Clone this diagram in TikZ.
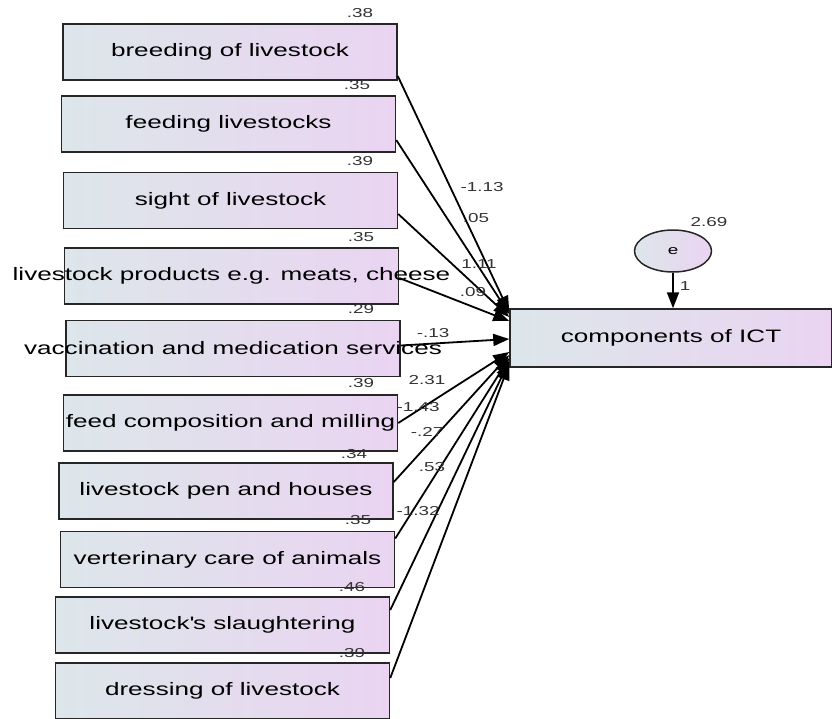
\documentclass[tikz,border=0pt]{standalone}
\usepackage{fontspec}
\setmainfont{Liberation Sans}[FakeStretch=1.45]
\usetikzlibrary{arrows.meta,shapes.geometric}

\definecolor{boxleft}{RGB}{221,230,234}
\definecolor{boxright}{RGB}{234,212,242}

\tikzset{
  obs/.style={draw=black!85, line width=1.5pt, left color=boxleft, right color=boxright,
    minimum width=334pt, minimum height=56pt, inner sep=0pt, font=\fontsize{18}{20}\selectfont},
  num/.style={inner sep=0pt, text=black!80, font=\fontsize{13}{14}\selectfont},
  effect/.style={-{Triangle[length=16pt,width=12pt]}, line width=1.8pt},
}
\newcommand{\wide}[1]{\makebox[0pt]{#1}}

\begin{document}
\begin{tikzpicture}[x=1pt, y=-1pt]
    \useasboundingbox (0,0) rectangle (832,718);
    % ---------------------------------------------
    % observed variables
    \node[obs] (b1)  at (230,52)    {\wide{breeding of livestock}};
    \node[obs] (b2)  at (228.5,124) {\wide{feeding livestocks}};
    \node[obs] (b3)  at (230.5,200.5) {\wide{sight of livestock}};
    \node[obs] (b4)  at (231.5,276) {\wide{livestock products e.g. meats, cheese}};
    \node[obs] (b5)  at (233,348.5) {\wide{vaccination and medication services}};
    \node[obs] (b6)  at (230.5,423) {\wide{feed composition and milling}};
    \node[obs] (b7)  at (226,491)   {\wide{livestock pen and houses}};
    \node[obs] (b8)  at (227.5,559.5) {\wide{verterinary care of animals}};
    \node[obs] (b9)  at (222.5,625) {\wide{livestock\textquotesingle s slaughtering}};
    \node[obs] (b10) at (222.5,691) {\wide{dressing of livestock}};

    % variances
    \node[num] (v1)  at (360,13)  {.38};
    \node[num] (v2)  at (357,85)  {.35};
    \node[num] (v3)  at (360,161) {.39};
    \node[num] (v4)  at (361,237) {.35};
    \node[num] (v5)  at (361,309) {.29};
    \node[num] (v6)  at (361,383) {.39};
    \node[num] (v7)  at (354,454) {.34};
    \node[num] (v8)  at (358,520) {.35};
    \node[num] (v9)  at (352,587) {.46};
    \node[num] (v10) at (352,653) {.39};

    % dependent variable and its error
    \node[obs, minimum width=322pt, minimum height=58pt] (comp) at (671,338) {components of ICT};
    \node[ellipse, draw=black!85, line width=1.5pt, left color=boxleft, right color=boxright,
      minimum width=77pt, minimum height=42pt, inner sep=0pt,
      font=\fontsize{13}{14}\selectfont] (err) at (673,251) {e};
    \node[num] (verr) at (709,222) {2.69};
    \draw[effect] (err.south) -- (err.south |- comp.north);
    \node[num] (w1) at (685,286) {1};

    % regression paths
    \draw[effect] ([yshift=-24pt]b1.east)  -- ([yshift=26pt]comp.west);
    \draw[effect] ([yshift=-16pt]b2.east)  -- ([yshift=24pt]comp.west);
    \draw[effect] ([yshift=-13.5pt]b3.east) -- ([yshift=21pt]comp.west);
    \draw[effect] ([yshift=-2pt]b4.east)   -- ([yshift=17pt]comp.west);
    \draw[effect] ([yshift=3pt]b5.east)    -- ([yshift=-1pt]comp.west);
    \draw[effect] (b6.east)                -- ([yshift=-14pt]comp.west);
    \draw[effect] ([yshift=9pt]b7.east)    -- ([yshift=-17pt]comp.west);
    \draw[effect] ([yshift=21pt]b8.east)   -- ([yshift=-20pt]comp.west);
    \draw[effect] ([yshift=15pt]b9.east)   -- ([yshift=-23pt]comp.west);
    \draw[effect] ([yshift=13pt]b10.east)  -- ([yshift=-26pt]comp.west);

    % path coefficients
    \node[num] (c1)  at (482,187) {-1.13};
    \node[num] (c2)  at (476,218) {.05};
    \node[num] (c3)  at (479,264) {1.11};
    \node[num] (c4)  at (473,292) {.09};
    \node[num] (c5)  at (433,333) {-.13};
    \node[num] (c6)  at (427,380) {2.31};
    \node[num] (c7)  at (418,407) {-1.43};
    \node[num] (c8)  at (427,432) {-.27};
    \node[num] (c9)  at (432,467) {.53};
    \node[num] (c10) at (418,511) {-1.32};

  \end{tikzpicture}
\end{document}
